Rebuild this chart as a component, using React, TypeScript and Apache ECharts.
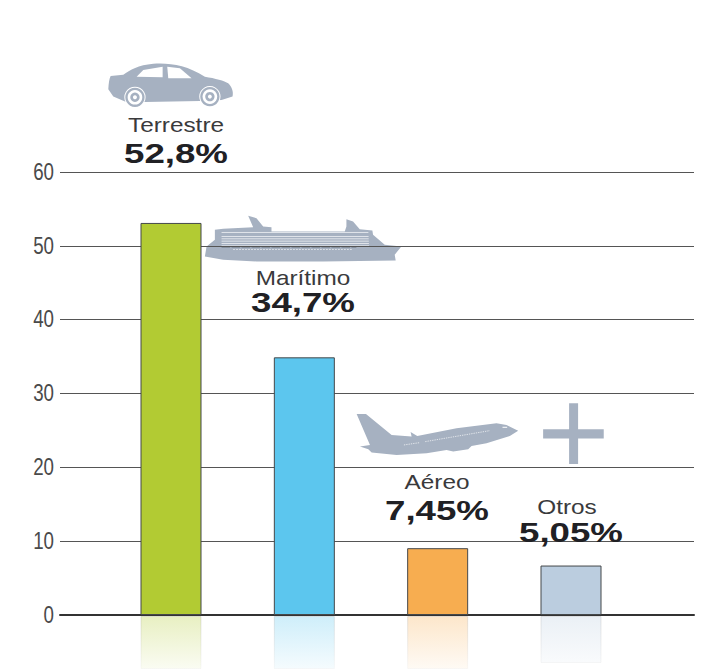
import React, { useEffect, useRef } from "react";
import * as echarts from "echarts";

const categories = ["Terrestre", "Marítimo", "Aéreo", "Otros"];
const shareLabels = ["52,8%", "34,7%", "7,45%", "5,05%"];
const barValues = [53.1, 34.9, 9.05, 6.7];
const reflectionValues = [8, 8, 8, 7.1];
const barPositions = [1, 2, 3, 4];
const barColors = ["#b2cb33", "#5cc6ee", "#f7ad50", "#bbcddf"];
const yTicks = [0, 10, 20, 30, 40, 50, 60];

const nameAnchors = [[176, 125], [303, 278], [437, 482], [567, 507]];
const shareAnchors = [[176, 153], [303, 302], [437, 510], [571, 532]];

const ICON = "#a6b1c1";
const carBody =
  "M55,118 C56,100 58,85 62,78 L100,74 C120,60 145,45 190,41 C240,38 290,45 345,80 C375,85 405,92 415,100 C425,110 432,125 428,140 L395,150 L330,153 L165,156 L105,155 L70,140 Z";
const shipBody =
  "M345,620 L350,590 L375,570 L375,540 L400,537 L490,532 L475,498 L500,505 L520,530 L545,532 L545,545 L765,545 L770,530 L770,508 L790,515 L810,538 L848,542 L850,555 L885,585 L935,590 L915,615 L918,632 L700,635 L500,635 L400,630 Z";
const planeBody =
  "M50,72 L78,72 L155,135 L215,140 L212,126 L232,138 L350,115 L470,100 L500,105 L535,122 L510,138 L440,160 L395,168 L385,178 L340,185 L320,180 L260,190 L170,195 L95,188 L85,178 L60,170 L90,165 Z";
const plusBody =
  "M688,40 L715,40 L715,118 L792,118 L792,146 L715,146 L715,222 L688,222 L688,146 L610,146 L610,118 L688,118 Z";

echarts.graphic.registerShape("carIcon", echarts.graphic.extendPath(carBody, {}) as any);
echarts.graphic.registerShape("shipIcon", echarts.graphic.extendPath(shipBody, {}) as any);
echarts.graphic.registerShape("planeIcon", echarts.graphic.extendPath(planeBody, {}) as any);
echarts.graphic.registerShape("plusIcon", echarts.graphic.extendPath(plusBody, {}) as any);

const FONT = '"Liberation Sans", Arial, sans-serif';

const wheel = (cx: number, cy: number) =>
  [
    { r: 32, fill: "#ffffff" },
    { r: 29, fill: ICON },
    { r: 22, fill: "#ffffff" },
    { r: 14, fill: ICON },
    { r: 6, fill: "#ffffff" },
  ].map((c) => ({ type: "circle", shape: { cx, cy, r: c.r }, style: { fill: c.fill } }));

const shipStripes = [548, 560, 567, 574, 581, 588];

function buildGraphics() {
  const texts: any[] = [];
  categories.forEach((name, i) => {
    texts.push({
      type: "text",
      x: nameAnchors[i][0],
      y: nameAnchors[i][1],
      scaleX: 1.16,
      z: 20,
      style: { text: name, font: `21px ${FONT}`, fill: "#3a3a3c", textAlign: "center", textVerticalAlign: "middle" },
    });
    texts.push({
      type: "text",
      x: shareAnchors[i][0],
      y: shareAnchors[i][1],
      scaleX: 1.31,
      z: 20,
      style: { text: shareLabels[i], font: `bold 28px ${FONT}`, fill: "#202024", textAlign: "center", textVerticalAlign: "middle" },
    });
  });
  const car = {
    type: "group",
    x: 90,
    y: 50,
    scaleX: 1 / 3,
    scaleY: 1 / 3,
    z: 10,
    children: [
      { type: "carIcon", style: { fill: ICON } },
      { type: "polygon", shape: { points: [[140, 80], [160, 60], [218, 50], [218, 82]] }, style: { fill: "#fff" } },
      { type: "polygon", shape: { points: [[232, 50], [270, 55], [305, 85], [235, 85]] }, style: { fill: "#fff" } },
      ...wheel(135, 142),
      ...wheel(360, 140),
    ],
  };
  const ship = {
    type: "group",
    x: 90,
    y: 50,
    scaleX: 1 / 3,
    scaleY: 1 / 3,
    z: 10,
    children: [
      { type: "shipIcon", style: { fill: ICON } },
      ...shipStripes.map((y) => ({
        type: "line",
        shape: { x1: 395, y1: y, x2: 838 - (588 - y) * 0.05, y2: y },
        style: { stroke: "#ffffff", lineWidth: 2 },
      })),
      { type: "line", shape: { x1: 395, y1: 591, x2: 800, y2: 591 }, style: { stroke: "#3f4650", lineWidth: 3, lineDash: [26, 4] } },
      { type: "line", shape: { x1: 430, y1: 599, x2: 790, y2: 599 }, style: { stroke: "#ffffff", lineWidth: 2, lineDash: [5, 4] } },
    ],
  };
  const plane = {
    type: "group",
    x: 340,
    y: 390,
    scaleX: 1 / 3,
    scaleY: 1 / 3,
    z: 10,
    children: [
      { type: "planeIcon", style: { fill: ICON } },
      { type: "plusIcon", style: { fill: ICON } },
      { type: "line", shape: { x1: 192, y1: 165, x2: 240, y2: 158 }, style: { stroke: "#fff", lineWidth: 2, lineDash: [4, 3] } },
      { type: "line", shape: { x1: 256, y1: 155, x2: 450, y2: 122 }, style: { stroke: "#fff", lineWidth: 2, lineDash: [4, 3] } },
      { type: "line", shape: { x1: 488, y1: 112, x2: 502, y2: 112 }, style: { stroke: "#fff", lineWidth: 3 } },
    ],
  };
  return [car, ship, plane, ...texts];
}

const withAlpha = (hex: string, a: number) => {
  const n = parseInt(hex.slice(1), 16);
  return `rgba(${(n >> 16) & 255},${(n >> 8) & 255},${n & 255},${a})`;
};
const fade = (hex: string, a0: number, a1: number) =>
  new echarts.graphic.LinearGradient(0, 616, 0, 669, [
    { offset: 0, color: withAlpha(hex, a0) },
    { offset: 1, color: withAlpha(hex, a1) },
  ], true);

export default function App() {
  const ref = useRef<HTMLDivElement>(null);
  useEffect(() => {
    document.body.style.margin = "0";
    const chart = echarts.init(ref.current!, undefined, { renderer: "svg" });
    const xCommon = { type: "value", min: 0.1675, max: 4.9225 };
    chart.setOption({
      animation: false,
      backgroundColor: "#ffffff",
      grid: [
        { left: 60, top: 172, width: 634, height: 443 },
        { left: 60, top: 616, width: 634, height: 53 },
      ],
      xAxis: [
        {
          ...xCommon,
          gridIndex: 0,
          axisLine: { show: true, onZero: true, lineStyle: { color: "#333333", width: 2 } },
          axisTick: { show: false },
          axisLabel: { show: false },
          splitLine: { show: false },
        },
        { ...xCommon, gridIndex: 1, show: false },
      ],
      yAxis: [
        {
          type: "value",
          gridIndex: 0,
          min: 0,
          max: 60,
          interval: 10,
          axisLine: { show: false },
          axisTick: { show: false },
          axisLabel: { show: false },
          splitLine: { show: true, lineStyle: { color: "#555555", width: 1 } },
        },
        { type: "value", gridIndex: 1, min: 0, max: 8, inverse: true, show: false },
      ],
      series: [
        {
          type: "bar",
          xAxisIndex: 0,
          yAxisIndex: 0,
          barWidth: 61,
          data: barValues.map((v, i) => ({
            value: [barPositions[i], v],
            name: categories[i],
            itemStyle: { color: barColors[i], borderColor: "#45484a", borderWidth: 1 },
          })),
        },
        {
          type: "bar",
          xAxisIndex: 1,
          yAxisIndex: 1,
          barWidth: 61,
          silent: true,
          data: reflectionValues.map((v, i) => ({
            value: [barPositions[i], v],
            itemStyle: {
              color: fade(barColors[i], 0.3, 0.06),
              borderColor: fade("#888888", 0.22, 0.05),
              borderWidth: 1,
            },
          })),
        },
      ],
      graphic: buildGraphics(),
    });
    // Tick labels are condensed in the reference: placed from the axis scale, then narrowed.
    const tickTexts = yTicks.map((t) => ({
      type: "text",
      x: 54,
      y: chart.convertToPixel({ yAxisIndex: 0 }, t),
      scaleX: 0.78,
      z: 20,
      style: {
        text: String(t),
        font: `24px ${FONT}`,
        fill: "#4a4a4a",
        textAlign: "right",
        textVerticalAlign: "middle",
      },
    }));
    chart.setOption({ graphic: [...buildGraphics(), ...tickTexts] });
    return () => chart.dispose();
  }, []);
  return <div ref={ref} style={{ width: 703, height: 669 }} />;
}
